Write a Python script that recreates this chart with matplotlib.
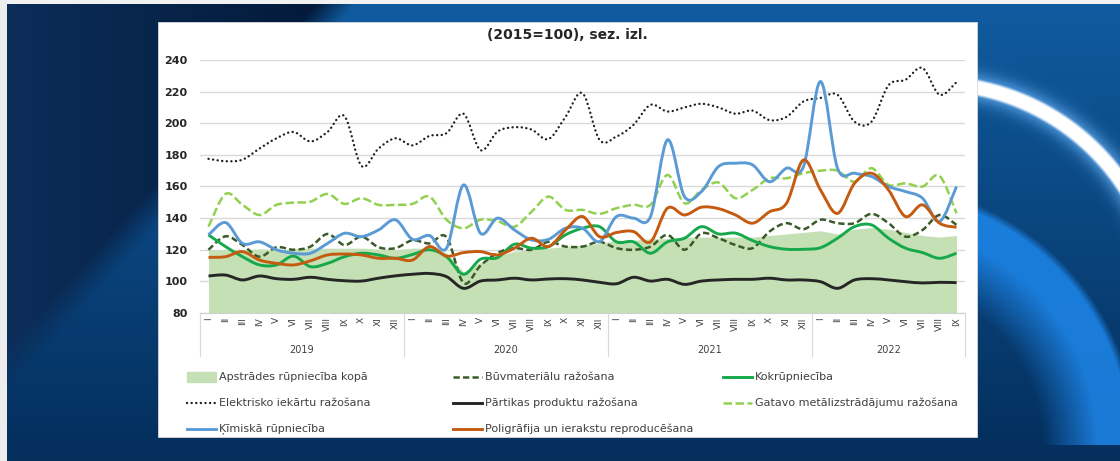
import numpy as np
import matplotlib
matplotlib.use('Agg')
import matplotlib.pyplot as plt
from matplotlib.path import Path
from matplotlib.patches import PathPatch, Rectangle
from matplotlib.transforms import blended_transform_factory

# categories
months = ['I', 'II', 'III', 'IV', 'V', 'VI', 'VII', 'VIII', 'IX', 'X', 'XI', 'XII']
years = ['2019', '2020', '2021', '2022']
month_labels = months * 3 + months[:9]

# series values (2015=100)
apstr = [120, 120, 120, 120.5, 120, 120.5, 121, 121, 121, 121, 120.5, 120,
         121, 121, 118, 106, 112, 116, 119, 120, 121, 122, 123, 124,
         126, 126, 127, 127, 128, 128, 128, 128, 128, 129, 130, 131,
         132, 130, 133, 134, 133, 131, 129, 128, 129]
buvm = [120, 128.5, 123, 115.6, 121.6, 120, 122, 130, 123, 128.3, 121.6, 121,
        126, 124, 128, 99, 110, 118, 121, 120, 125, 122, 122, 125,
        121, 120, 122, 129.4, 120, 130.4, 127.3, 123, 121, 131.5, 136.8, 133,
        139, 136.8, 136.8, 142.7, 136.8, 128.3, 132.5, 142, 135.7]
koks = [129.4, 122, 115.6, 110.4, 110.4, 116, 109.3, 111.4, 115.6, 117.8, 116.7, 114.6,
        117, 120, 115.6, 104.5, 114, 115, 123.5, 121, 122, 129.4, 133.6, 134.6,
        125, 125, 117.8, 125, 127.3, 134.6, 130, 130.5, 125.8, 122, 120.3, 120.3,
        121.3, 127.3, 134.6, 135.7, 127.3, 121, 118.2, 114.6, 117.8]
elek = [177.5, 176, 177, 184, 190.5, 194.5, 188.5, 194.5, 204.5, 173, 184, 190.5,
        186, 192, 193.7, 206, 183, 194.7, 197.5, 196, 190, 204, 219, 189.5,
        191.6, 199, 211.6, 207.4, 210, 212.3, 210, 206, 208, 202, 204, 213.8,
        216, 218, 201, 201, 224, 227.5, 235, 218, 226]
part = [103.4, 104, 100.9, 103.4, 101.7, 101.3, 102.6, 101.3, 100.4, 100.2, 102, 103.5,
        104.5, 105, 103, 95.6, 100.2, 100.9, 102, 100.9, 101.5, 101.7, 100.9, 99.4,
        98.5, 102.6, 100.2, 101.3, 98.1, 100.2, 100.9, 101.3, 101.3, 102, 100.9, 100.9,
        99.8, 95.6, 100.9, 101.7, 100.9, 99.8, 99, 99.4, 99.2]
gatavo = [134.6, 155.3, 148.4, 142, 148.4, 149.8, 150.4, 155.3, 149, 152.6, 148.4, 148.4,
          149, 153.6, 139, 133.6, 139, 138, 134.6, 144, 153.6, 145.2, 145.2, 142.7,
          146.3, 148.4, 148.4, 167.3, 149.4, 157.8, 162.5, 152.6, 157.8, 165.2, 165.2, 168.4,
          170, 170, 163, 171.6, 161, 162, 160, 166.7, 143]
kim = [129.4, 137.2, 124, 125, 120, 117.8, 117.8, 124, 130.4, 128.3, 132.5, 138.9,
       126.6, 129, 121, 161, 130.4, 140, 132.5, 126.2, 126.6, 133.6, 133.6, 125.1,
       141, 140, 141, 189.5, 153.6, 156.8, 172.6, 174.7, 173.7, 163, 171.6, 172.6,
       226.4, 171.6, 168.4, 166.3, 160, 156.8, 152.6, 137.8, 160]
poli = [115.2, 115.6, 118.8, 113.5, 111.4, 110.4, 113, 116.7, 117.3, 116.7, 114.6, 114.6,
        113.5, 122, 116, 118.2, 118.8, 116.7, 121, 127.3, 122, 132.5, 141, 128.3,
        130.9, 131.5, 125, 146.3, 142, 146.9, 146, 142, 136.8, 144, 149.4, 176.8,
        157.8, 143, 162, 168.4, 157.8, 141, 148.4, 136.8, 134.2]

W, H = 1120, 461
fig = plt.figure(figsize=(W / 100, H / 100), dpi=100)

# background "slide"
bg = fig.add_axes([0, 0, 1, 1], zorder=0)
yy, xx = np.mgrid[0:H, 0:W].astype(float)
dark = np.array([3, 26, 58]) / 255
navy = np.array([12, 46, 90]) / 255
blue_top = np.array([16, 92, 160]) / 255
blue_bot = np.array([4, 46, 92]) / 255
lw_ = np.clip(1 - xx / 320, 0, 1)[..., None]
bw = np.clip((xx - 320 + 0.9 * yy) / 40, 0, 1)[..., None]
vy = (yy / H)[..., None]
blue = blue_top * (1 - vy) + blue_bot * vy
img = (dark * (1 - lw_) + navy * lw_) * (1 - bw) + blue * bw

# bright blue swoosh, fading inwards (upper-right quarter only)
d = np.hypot(xx - 877, yy - 445)
quarter = ((xx > 877) & (yy < 445))
inner = np.clip((d - 165) / 55, 0, 1)
outer = np.clip(1 - (d - 252) / 8, 0, 1)
a = (inner * outer * quarter)[..., None] * 0.85
img = img * (1 - a) + np.array([30, 135, 235]) / 255 * a

# white glowing swoosh
d = np.hypot(xx - 933, yy - 313)
quarter = ((xx > 933) & (yy < 313))
glow = (np.exp(-((d - 229) / 14) ** 2) * quarter)[..., None]
img = img * (1 - glow * 0.8) + np.array([110, 185, 255]) / 255 * glow * 0.8
core = (np.clip(1 - (np.abs(d - 229) - 6) / 3, 0, 1) * quarter)[..., None]
img = img * (1 - core) + core

img[:5, :] = 0.95
img[:, :7] = 0.93
bg.imshow(np.clip(img, 0, 1), extent=(0, W, H, 0), aspect='auto', zorder=0)

bg.add_patch(Rectangle((158, 22), 819, 415, facecolor='white',
                       edgecolor='#D8D8D8', lw=0.6, zorder=3))
bg.set_xlim(0, W)
bg.set_ylim(H, 0)
bg.axis('off')

bg.text(567, 35, '(2015=100), sez. izl.', ha='center', va='center',
        fontsize=10, fontweight='bold', color='#262626', zorder=5)

# chart
ax = fig.add_axes([200 / W, (H - 313) / H, 765 / W, 253 / H], zorder=1)
ax.set_facecolor('none')
x = np.arange(len(month_labels))


def smooth_path(xs, ys):
    pts = np.column_stack([xs, ys]).astype(float)
    n = len(pts)
    verts = [pts[0]]
    codes = [Path.MOVETO]
    for i in range(n - 1):
        p0 = pts[i - 1] if i > 0 else pts[i]
        p1, p2 = pts[i], pts[i + 1]
        p3 = pts[i + 2] if i + 2 < n else pts[i + 1]
        verts += [p1 + (p2 - p0) / 6, p2 - (p3 - p1) / 6, p2]
        codes += [Path.CURVE4] * 3
    return Path(verts, codes)


ax.fill_between(x, 80, apstr, color='#C5E0B4', lw=0, zorder=1)

DOTS = (0, (0.05, 1.9))
styles = [
    (buvm, '#3A5A28', 1.8, (0, (2.5, 1.3))),
    (koks, '#16A94B', 2.1, '-'),
    (elek, '#1E1E1E', 1.7, DOTS),
    (part, '#262626', 2.1, '-'),
    (gatavo, '#92D050', 1.8, (0, (3.4, 1.4))),
    (kim, '#5B9BD5', 2.1, '-'),
    (poli, '#C55A11', 2.1, '-'),
]
for i, (vals, col, lw, ls) in enumerate(styles):
    cap = 'round' if ls == DOTS else 'butt'
    ax.add_patch(PathPatch(smooth_path(x, vals), fill=False, edgecolor=col, lw=lw,
                           linestyle=ls, capstyle=cap, joinstyle='round', zorder=2 + i))

ax.set_xlim(-0.5, len(month_labels) - 0.5)
ax.set_ylim(80, 240)
ax.set_yticks(range(80, 241, 20))
ax.grid(axis='y', color='#D9D9D9', lw=1)
ax.set_axisbelow(True)
for s in ['left', 'right', 'top']:
    ax.spines[s].set_visible(False)
ax.spines['bottom'].set_color('#D0D0D0')
ax.tick_params(axis='y', length=0, pad=9, labelsize=8, labelcolor='#262626')
for t in ax.get_yticklabels():
    t.set_fontweight('bold')
ax.set_xticks(x)
ax.set_xticklabels(month_labels, rotation=90, fontsize=6.5, color='#404040', va='top')
ax.tick_params(axis='x', length=0, pad=3)

tr = blended_transform_factory(ax.transData, ax.transAxes)
for b in [-0.5, 11.5, 23.5, 35.5, 44.5]:
    ax.plot([b, b], [0, -0.17], transform=tr, color='#D9D9D9', lw=0.8, clip_on=False)
for yl, c in zip(years, [5.5, 17.5, 29.5, 40]):
    ax.text(c, -0.146, yl, transform=tr, ha='center', va='center',
            fontsize=7, color='#404040')

# legend
rows = [377, 403, 429]
cols = [187, 453, 723]
legend_items = [
    (0, 0, 'Apstrādes rūpniecība kopā', None),
    (0, 1, 'Būvmateriālu ražošana', styles[0]),
    (0, 2, 'Kokrūpniecība', styles[1]),
    (1, 0, 'Elektrisko iekārtu ražošana', styles[2]),
    (1, 1, 'Pārtikas produktu ražošana', styles[3]),
    (1, 2, 'Gatavo metālizstrādājumu ražošana', styles[4]),
    (2, 0, 'Ķīmiskā rūpniecība', styles[5]),
    (2, 1, 'Poligrāfija un ierakstu reproducēšana', styles[6]),
]
for r, c, label, st in legend_items:
    x0, y0 = cols[c], rows[r]
    if st is None:
        bg.add_patch(Rectangle((x0, y0 - 5), 29, 10, color='#C5E0B4', zorder=5))
    else:
        _, col, lw, ls = st
        cap = 'round' if ls == DOTS else 'butt'
        bg.plot([x0, x0 + 29], [y0, y0], color=col, lw=lw, linestyle=ls,
                dash_capstyle=cap, zorder=5)
    bg.text(x0 + 32, y0, label, ha='left', va='center', fontsize=8,
            color='#404040', zorder=5)

fig.savefig('out.png', dpi=100)
